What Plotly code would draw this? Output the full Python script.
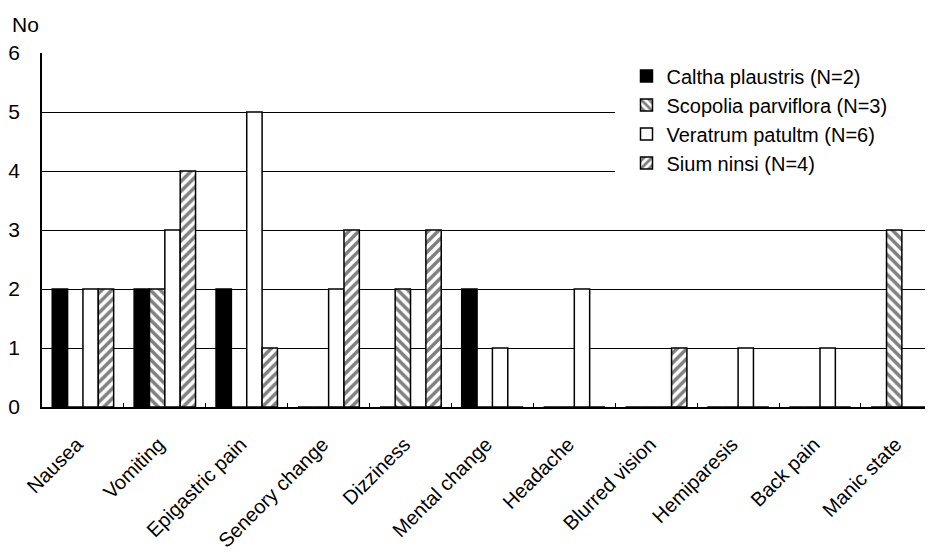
import plotly.graph_objects as go

categories = ["Nausea", "Vomiting", "Epigastric pain", "Seneory change", "Dizziness",
              "Mental change", "Headache", "Blurred vision", "Hemiparesis", "Back pain",
              "Manic state"]
caltha = [2, 2, 2, 0, 0, 2, 0, 0, 0, 0, 0]
scopolia = [0, 2, 0, 0, 2, 0, 0, 0, 0, 0, 3]
veratrum = [2, 3, 5, 2, 0, 1, 2, 0, 1, 1, 0]
sium = [2, 4, 1, 3, 3, 0, 0, 1, 0, 0, 0]
series_names = ["Caltha plaustris (N=2)", "Scopolia parviflora (N=3)",
                "Veratrum patultm (N=6)", "Sium ninsi (N=4)"]
y_ticks = [0, 1, 2, 3, 4, 5, 6]

FONT = "Liberation Sans, Arial, sans-serif"
line = dict(color="black", width=1.5)

fig = go.Figure()
fig.add_trace(go.Bar(x=categories, y=caltha, name=series_names[0],
                     marker=dict(color="black", line=line)))
fig.add_trace(go.Bar(x=categories, y=scopolia, name=series_names[1],
                     marker=dict(color="white", line=line,
                                 pattern=dict(shape="\\", fgcolor="black", bgcolor="white",
                                              size=7, solidity=0.5))))
fig.add_trace(go.Bar(x=categories, y=veratrum, name=series_names[2],
                     marker=dict(color="white", line=line)))
fig.add_trace(go.Bar(x=categories, y=sium, name=series_names[3],
                     marker=dict(color="white", line=line,
                                 pattern=dict(shape="/", fgcolor="black", bgcolor="white",
                                              size=7, solidity=0.5))))

# the page body adds an 8px offset, so margins are shifted to compensate
fig.update_layout(
    width=933, height=554,
    margin=dict(l=34, r=8, t=45, b=155),
    paper_bgcolor="white", plot_bgcolor="white",
    barmode="group", bargap=0.25, bargroupgap=0,
    font=dict(family=FONT, color="black"),
    legend=dict(x=0.656, y=0.99, xanchor="left", yanchor="top",
                bgcolor="white", borderwidth=0,
                font=dict(family=FONT, size=20, color="black"),
                tracegroupgap=0),
    xaxis=dict(type="category", range=[-0.5, 10.38], automargin=False,
               tickson="boundaries", ticks="inside", ticklen=4,
               tickcolor="black", tickwidth=1,
               showline=True, linecolor="black", linewidth=1.5,
               showgrid=False, tickangle=-45,
               tickfont=dict(family=FONT, size=20, color="black"),
               ticklabelstandoff=16, ticklabelshift=-6),
    yaxis=dict(range=[0, 6], tickvals=y_ticks, showgrid=True, automargin=False,
               gridcolor="black", gridwidth=1.2,
               showline=True, linecolor="black", linewidth=1.5,
               ticks="", zeroline=False,
               tickfont=dict(family=FONT, size=21, color="black"),
               ticklabelstandoff=16),
    # white backing of the legend area, hiding the grid lines behind it
    shapes=[dict(type="rect", xref="paper", yref="paper",
                 x0=0.643, x1=1.0, y0=0.59, y1=0.985,
                 fillcolor="white", line=dict(width=0), layer="above")],
    annotations=[dict(text="No", xref="paper", yref="paper",
                      x=-0.036, y=1.12, xanchor="left", yanchor="top",
                      showarrow=False,
                      font=dict(family=FONT, size=21, color="black"))],
)

fig.write_html("out.html")
